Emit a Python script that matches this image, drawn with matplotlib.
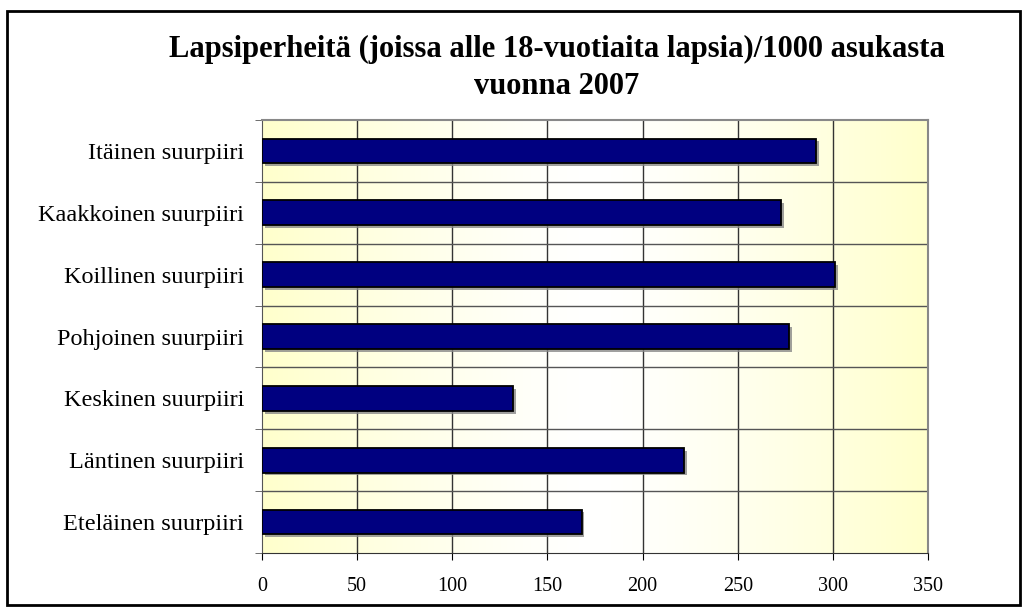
import numpy as np
import matplotlib
matplotlib.use('Agg')
import matplotlib.pyplot as plt
import matplotlib.patheffects as pe
from matplotlib.patches import Rectangle

categories = ['Itäinen suurpiiri', 'Kaakkoinen suurpiiri', 'Koillinen suurpiiri',
              'Pohjoinen suurpiiri', 'Keskinen suurpiiri', 'Läntinen suurpiiri',
              'Eteläinen suurpiiri']
values = [291, 273, 301, 277, 132, 222, 168]
xticks = [0, 50, 100, 150, 200, 250, 300, 350]

plt.rcParams['font.family'] = ['Liberation Serif', 'DejaVu Serif']

fig = plt.figure(figsize=(10.27, 6.11), dpi=100)
fig.patch.set_facecolor('white')
fig.add_artist(Rectangle((7 / 1027, 6 / 611), 1013 / 1027, 594 / 611,
                         transform=fig.transFigure, fill=False,
                         edgecolor='black', linewidth=2))

ax = fig.add_axes([262 / 1027, 58 / 611, 666 / 1027, 433 / 611])

# background gradient: light yellow at the edges, white in the middle
t = np.linspace(0, 1, 256)
w = np.abs(2 * t - 1) ** 1.3
yellow = np.array([1.0, 1.0, 0.8])
grad = 1 - w[:, None] * (1 - yellow)[None, :]
ax.imshow(grad[None, :, :], extent=[0, 1, 0, 1], transform=ax.transAxes,
          aspect='auto', zorder=0)

n = len(categories)
ypos = np.arange(n)[::-1]
ax.barh(ypos, values, height=0.4, color='#000080', edgecolor='black',
        linewidth=1.3, zorder=3,
        path_effects=[pe.SimplePatchShadow(offset=(2, -2), shadow_rgbFace='#888888', alpha=0.8),
                      pe.Normal()])

ax.set_xlim(0, 350)
ax.set_ylim(-0.5, n - 0.5)
ax.set_xticks(xticks)
ax.set_xticklabels([str(x) for x in xticks], fontsize=14.5)
ax.set_yticks(ypos)
ax.set_yticklabels(categories, fontsize=17.5)
ax.tick_params(axis='y', length=0, pad=13)
ax.tick_params(axis='x', length=5, direction='out', pad=12, color='black')
ax.set_yticks(np.arange(-0.5, n, 1), minor=True)
ax.tick_params(axis='y', which='minor', length=5, direction='out', color='#555555')

for x in xticks[1:-1]:
    ax.axvline(x, color='#333333', linewidth=1, zorder=1)
for y in np.arange(0.5, n - 0.5, 1):
    ax.axhline(y, color='#555555', linewidth=1, zorder=1)

for side in ['top', 'right']:
    ax.spines[side].set_color('#888888')
    ax.spines[side].set_linewidth(1.5)
ax.spines['left'].set_color('#555555')
ax.spines['bottom'].set_color('#333333')

fig.text(557 / 1027, 1 - 49 / 611, 'Lapsiperheitä (joissa alle 18-vuotiaita lapsia)/1000 asukasta',
         ha='center', va='center', fontsize=22, fontweight='bold')
fig.text(557 / 1027, 1 - 86 / 611, 'vuonna 2007',
         ha='center', va='center', fontsize=22, fontweight='bold')

plt.savefig('out.png', dpi=100)
plt.close()
